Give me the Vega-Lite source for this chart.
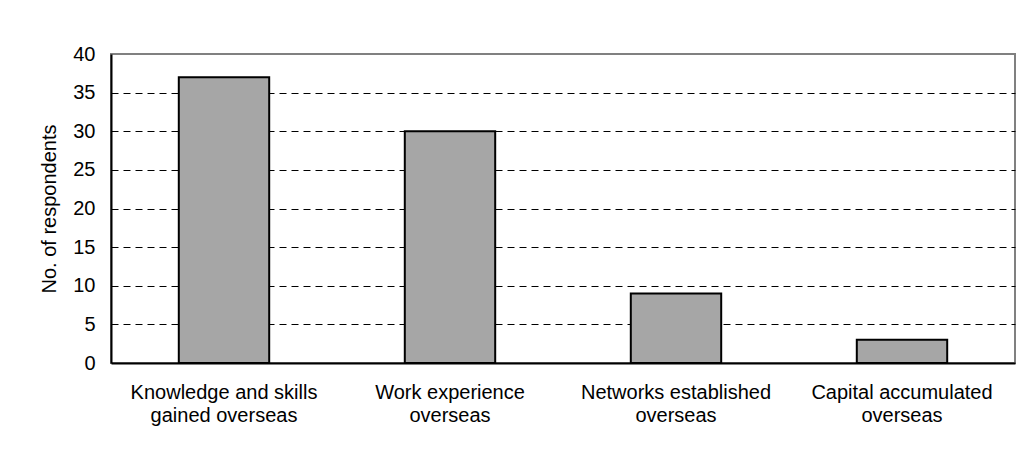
{
  "$schema": "https://vega.github.io/schema/vega-lite/v6.json",
  "autosize": {"type": "none"},
  "width": 904,
  "height": 309,
  "padding": {"left": 111, "top": 54, "right": 6, "bottom": 89},
  "background": "white",
  "config": {
    "font": "Liberation Sans",
    "view": {"stroke": "#808080", "strokeWidth": 2},
    "axis": {"labelFont": "Liberation Sans", "titleFont": "Liberation Sans", "labelColor": "black", "titleColor": "black"}
  },
  "data": {
    "values": [
      {"reason": "Knowledge and skills gained overseas", "respondents": 37},
      {"reason": "Work experience overseas", "respondents": 30},
      {"reason": "Networks established overseas", "respondents": 9},
      {"reason": "Capital accumulated overseas", "respondents": 3}
    ]
  },
  "mark": {"type": "bar", "fill": "#a6a6a6", "stroke": "black", "strokeWidth": 2},
  "encoding": {
    "x": {
      "field": "reason",
      "type": "nominal",
      "sort": null,
      "scale": {"paddingInner": 0.6, "paddingOuter": 0.3},
      "axis": {
        "title": null,
        "labelAngle": 0,
        "ticks": false,
        "labelFontSize": 20,
        "labelLineHeight": 23,
        "labelPadding": 19,
        "labelBaseline": "top",
        "labelLimit": 300,
        "domainColor": "black",
        "domainWidth": 2,
        "labelExpr": "datum.value == 'Knowledge and skills gained overseas' ? ['Knowledge and skills', 'gained overseas'] : datum.value == 'Work experience overseas' ? ['Work experience', 'overseas'] : datum.value == 'Networks established overseas' ? ['Networks established', 'overseas'] : ['Capital accumulated', 'overseas']"
      }
    },
    "y": {
      "field": "respondents",
      "type": "quantitative",
      "scale": {"domain": [0, 40], "nice": false},
      "axis": {
        "title": "No. of respondents",
        "titleFontSize": 20,
        "titleFontWeight": "normal",
        "titlePadding": 13,
        "values": [0, 5, 10, 15, 20, 25, 30, 35, 40],
        "labelFontSize": 20,
        "labelPadding": 16,
        "ticks": false,
        "domainColor": "black",
        "domainWidth": 2,
        "grid": true,
        "gridColor": "black",
        "gridWidth": 1,
        "gridDash": [7, 5],
        "gridOpacity": {"condition": {"test": "datum.value === 40 || datum.value === 0", "value": 0}, "value": 1}
      }
    }
  }
}
